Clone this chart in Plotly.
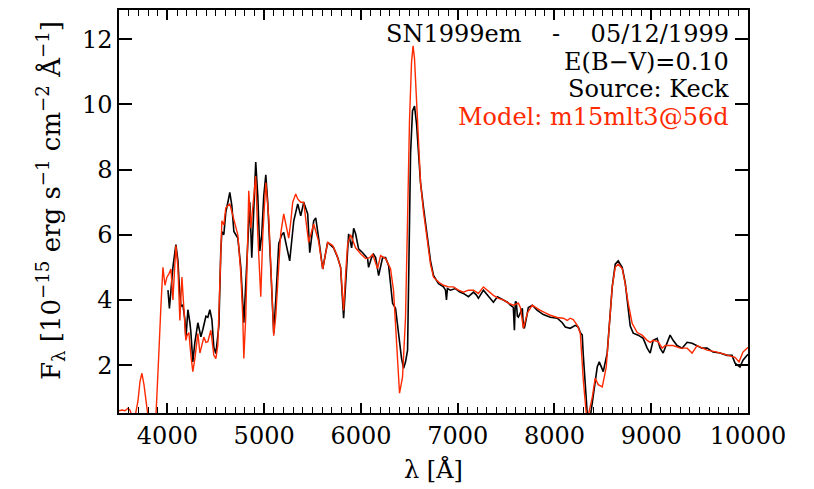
import plotly.graph_objects as go

# Observed spectrum (black): wavelength [Å], flux [1e-15 erg/s/cm2/Å]
obs_wave = [4006, 4021, 4037, 4057, 4088, 4109, 4124, 4140, 4160, 4181, 4191, 4212, 4233, 4243,
            4263, 4284, 4315, 4346, 4367, 4398, 4418, 4439, 4460, 4480, 4501, 4532, 4552, 4563,
            4583, 4604, 4625, 4645, 4666, 4687, 4728, 4759, 4790, 4810, 4831, 4852, 4872, 4893,
            4913, 4934, 4955, 4975, 4996, 5017, 5037, 5068, 5099, 5120, 5151, 5182, 5202, 5223,
            5264, 5306, 5347, 5378, 5409, 5450, 5471, 5512, 5533, 5563, 5605, 5656, 5687, 5718,
            5760, 5790, 5821, 5842, 5863, 5873, 5904, 5925, 5945, 5976, 6018, 6069, 6079, 6110,
            6131, 6152, 6183, 6224, 6255, 6286, 6306, 6327, 6358, 6389, 6420, 6441, 6461, 6482,
            6492, 6513, 6533, 6554, 6575, 6595, 6616, 6647, 6688, 6719, 6750, 6802, 6853, 6874,
            6884, 6894, 6925, 6977, 7018, 7059, 7111, 7163, 7194, 7214, 7245, 7266, 7307, 7338,
            7369, 7410, 7441, 7472, 7514, 7545, 7575, 7586, 7596, 7606, 7617, 7627, 7648, 7668,
            7679, 7689, 7720, 7730, 7771, 7823, 7885, 7957, 8029, 8081, 8112, 8163, 8215, 8246,
            8267, 8287, 8298, 8318, 8339, 8370, 8401, 8442, 8463, 8504, 8545, 8576, 8597, 8628,
            8659, 8679, 8700, 8731, 8762, 8783, 8814, 8865, 8917, 8958, 8989, 9020, 9061, 9092,
            9123, 9164, 9195, 9226, 9267, 9319, 9371, 9422, 9474, 9525, 9577, 9639, 9711, 9783,
            9835, 9866, 9917, 9948, 9990, 10040]
obs_flux = [4.30, 3.74, 4.30, 5.00, 5.70, 5.20, 4.40, 3.80, 3.85, 3.40, 2.80, 3.70, 3.30, 3.00,
            2.10, 2.70, 3.30, 2.87, 3.10, 3.50, 3.47, 3.70, 3.40, 2.55, 2.36, 3.20, 5.50, 6.10,
            6.00, 6.70, 7.00, 7.30, 6.90, 6.10, 5.90, 5.00, 3.30, 4.50, 6.00, 7.00, 5.30, 7.00,
            8.23, 7.20, 5.50, 6.00, 7.20, 7.84, 7.00, 5.00, 2.98, 4.00, 5.73, 6.00, 6.07, 5.77,
            5.20, 6.43, 6.95, 6.58, 7.00, 6.64, 5.45, 6.43, 6.52, 5.90, 4.95, 5.77, 5.67, 5.60,
            5.30, 5.00, 3.44, 4.50, 5.20, 6.03, 5.60, 6.20, 6.03, 5.57, 5.45, 5.27, 5.00, 5.30,
            5.40, 5.30, 4.75, 5.30, 5.30, 5.05, 4.50, 3.90, 3.74, 2.86, 2.20, 1.90, 2.10, 2.46,
            5.00, 8.50, 9.80, 9.95, 9.40, 8.50, 7.60, 6.83, 5.90, 5.20, 4.75, 4.50, 4.40, 4.30,
            4.00, 4.35, 4.30, 4.35, 4.25, 4.20, 4.10, 4.24, 4.15, 4.05, 4.20, 4.30, 4.15, 4.05,
            3.93, 4.10, 4.05, 4.00, 3.93, 3.84, 3.77, 3.07, 3.95, 3.93, 3.50, 3.47, 3.60, 3.74,
            3.17, 3.13, 3.60, 3.77, 3.84, 3.68, 3.55, 3.47, 3.44, 3.30, 3.17, 3.13, 3.22, 3.17,
            3.00, 2.92, 2.30, 1.33, 0.50, 0.40, 1.02, 1.94, 2.10, 1.80, 2.37, 3.60, 4.40, 5.10,
            5.20, 5.10, 5.00, 4.53, 3.77, 3.20, 2.98, 2.92, 2.82, 2.52, 2.37, 2.76, 2.82, 2.52,
            2.37, 2.67, 2.92, 2.76, 2.60, 2.52, 2.70, 2.67, 2.60, 2.52, 2.52, 2.40, 2.37, 2.30,
            2.30, 2.06, 1.94, 2.15, 2.30, 2.40]

# Model spectrum (red)
mod_wave = [3500, 3531, 3562, 3593, 3613, 3634, 3665, 3696, 3717, 3737, 3758, 3779, 3799, 3830,
            3861, 3882, 3902, 3913, 3933, 3954, 3975, 3995, 4016, 4037, 4057, 4088, 4109, 4129,
            4150, 4171, 4191, 4202, 4222, 4243, 4263, 4284, 4315, 4336, 4356, 4377, 4398, 4418,
            4449, 4480, 4501, 4521, 4542, 4563, 4583, 4604, 4645, 4676, 4707, 4728, 4759, 4779,
            4790, 4810, 4831, 4841, 4862, 4883, 4913, 4934, 4965, 4986, 5017, 5048, 5079, 5099,
            5120, 5151, 5171, 5202, 5223, 5254, 5275, 5295, 5326, 5347, 5378, 5409, 5429, 5460,
            5512, 5563, 5605, 5656, 5708, 5749, 5790, 5821, 5842, 5863, 5894, 5945, 5997, 6048,
            6090, 6121, 6172, 6203, 6255, 6306, 6337, 6368, 6399, 6430, 6461, 6482, 6502, 6523,
            6539, 6554, 6575, 6595, 6616, 6647, 6688, 6719, 6750, 6802, 6853, 6905, 6956, 7008,
            7059, 7111, 7163, 7214, 7266, 7307, 7369, 7421, 7472, 7524, 7575, 7627, 7648, 7679,
            7699, 7720, 7771, 7813, 7854, 7906, 7957, 8029, 8091, 8132, 8163, 8194, 8236, 8267,
            8298, 8329, 8349, 8391, 8421, 8452, 8494, 8535, 8566, 8597, 8628, 8659, 8700, 8731,
            8762, 8803, 8855, 8906, 8958, 8989, 9020, 9071, 9113, 9144, 9226, 9298, 9371, 9422,
            9474, 9577, 9680, 9794, 9866, 9907, 9948, 9990, 10000]
mod_flux = [0.60, 0.62, 0.60, 0.68, 0.62, 0.45, 0.40, 0.90, 1.50, 1.75, 1.40, 0.80, 0.45, 0.30,
            0.30, 0.45, 1.50, 2.45, 3.80, 5.00, 4.45, 4.70, 4.80, 4.95, 4.00, 5.67, 5.00, 3.37,
            4.70, 3.50, 2.76, 2.90, 3.00, 2.30, 1.80, 2.20, 2.97, 2.37, 2.60, 2.86, 2.70, 2.72,
            3.07, 2.30, 2.20, 2.60, 4.50, 6.43, 6.30, 6.83, 6.95, 6.60, 6.30, 6.00, 4.80, 3.47,
            2.20, 3.50, 6.00, 7.35, 6.20, 6.80, 7.80, 6.00, 4.10, 6.00, 7.60, 6.50, 4.50, 2.90,
            3.50, 5.30, 6.03, 6.64, 6.37, 5.90, 6.40, 7.00, 7.25, 7.10, 7.00, 7.00, 6.50, 5.77,
            6.33, 5.80, 4.95, 5.77, 5.67, 5.40, 5.00, 3.68, 4.80, 5.73, 6.00, 5.60, 5.42, 5.27,
            5.30, 5.40, 4.96, 5.36, 5.27, 4.96, 4.29, 2.86, 1.14, 1.63, 3.47, 6.50, 9.50, 11.30,
            11.80, 11.40, 10.00, 8.60, 7.60, 6.70, 5.80, 5.10, 4.70, 4.55, 4.45, 4.40, 4.40, 4.30,
            4.24, 4.30, 4.30, 4.20, 4.40, 4.30, 4.14, 4.05, 4.00, 3.90, 3.84, 3.90, 3.77, 3.13,
            3.40, 3.60, 3.84, 3.75, 3.68, 3.60, 3.53, 3.46, 3.44, 3.37, 3.44, 3.40, 3.22, 2.98,
            1.54, 0.50, 0.45, 1.02, 1.60, 1.40, 1.33, 1.94, 3.30, 4.40, 5.00, 5.10, 4.96, 4.50,
            3.90, 3.28, 3.00, 2.92, 2.76, 2.70, 2.76, 2.72, 2.52, 2.60, 2.60, 2.52, 2.52, 2.37,
            2.60, 2.46, 2.40, 2.30, 2.24, 2.10, 2.40, 2.52, 2.55]

x_range = [3500, 10000]
y_range = [0.53, 12.9]
x_major_step, x_minor_step = 1000, 100
y_major_step = 2

title_lines = ["SN1999em\u00a0\u00a0\u00a0\u00a0-\u00a0\u00a0\u00a0\u00a005/12/1999",
               "E(B\u2212V)=0.10", "Source: Keck", "Model: m15mlt3@56d"]
title_colors = ["black", "black", "black", "#ff2a00"]

FONT = "DejaVu Serif"

fig = go.Figure()
fig.add_trace(go.Scatter(x=obs_wave, y=obs_flux, mode="lines",
                         line=dict(color="black", width=1.6), showlegend=False))
fig.add_trace(go.Scatter(x=mod_wave, y=mod_flux, mode="lines",
                         line=dict(color="#ff2a00", width=1.4), showlegend=False))

fig.update_xaxes(range=x_range, tickmode="linear", tick0=4000, dtick=x_major_step,
                 tickformat="d",
                 showgrid=False, zeroline=False, showline=True, linecolor="black",
                 linewidth=1.5, mirror="ticks", ticks="inside", tickcolor="black",
                 tickwidth=1.5, ticklen=10,
                 tickfont=dict(family=FONT, size=24, color="black"),
                 minor=dict(dtick=x_minor_step, tick0=3500, ticks="inside", ticklen=6,
                            tickcolor="black", tickwidth=1.2, showgrid=False))
fig.update_yaxes(range=y_range, tickmode="linear", tick0=0, dtick=y_major_step,
                 showgrid=False, zeroline=False, showline=True, linecolor="black",
                 linewidth=1.5, mirror="ticks", ticks="inside", tickcolor="black",
                 tickwidth=1.5, ticklen=13,
                 tickfont=dict(family=FONT, size=24, color="black"))

ys = [0.940, 0.870, 0.803, 0.734]
for txt, col, yy in zip(title_lines, title_colors, ys):
    fig.add_annotation(text=txt, xref="paper", yref="paper", x=0.973, y=yy,
                       xanchor="right", yanchor="middle", showarrow=False,
                       font=dict(family=FONT, size=24, color=col))

fig.add_annotation(text="F<sub>\u03bb</sub> [10<sup>\u221215</sup> erg s<sup>\u22121</sup> cm<sup>\u22122</sup> \u00c5<sup>\u22121</sup>]",
                   xref="paper", yref="paper", x=-0.11, y=0.528, textangle=-90,
                   xanchor="center", yanchor="middle", showarrow=False,
                   font=dict(family=FONT, size=26, color="black"))
fig.add_annotation(text="\u03bb [\u00c5]", xref="paper", yref="paper", x=0.5, y=-0.141,
                   xanchor="center", yanchor="middle", showarrow=False,
                   font=dict(family=FONT, size=24, color="black"))

fig.update_layout(width=814, height=489, margin=dict(l=119, r=66, t=8, b=76),
                  paper_bgcolor="white", plot_bgcolor="white",
                  font=dict(family=FONT, size=24, color="black"))

fig.write_html("out.html")
